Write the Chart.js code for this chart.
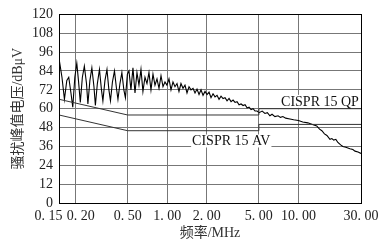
<!DOCTYPE html>
<html>
<head>
<meta charset="utf-8">
<script src="https://cdn.jsdelivr.net/npm/chart.js@4/dist/chart.umd.min.js"></script>
<style>
  html, body { margin: 0; padding: 0; background: #fff; }
</style>
</head>
<body>
<canvas id="emiChart" width="392" height="242"></canvas>
<script>
  const freqMHz = [
    0.150, 0.158, 0.165, 0.172, 0.178, 0.185, 0.191, 0.198, 0.205, 0.211,
    0.218, 0.226, 0.234, 0.243, 0.249, 0.258, 0.267, 0.277, 0.284, 0.294,
    0.305, 0.316, 0.324, 0.336, 0.348, 0.360, 0.370, 0.383, 0.397, 0.411,
    0.422, 0.437, 0.452, 0.468, 0.481, 0.498,
    0.512, 0.530, 0.549, 0.569, 0.589, 0.610, 0.632, 0.654, 0.678, 0.702,
    0.727, 0.753, 0.780, 0.808, 0.837, 0.867, 0.898, 0.930, 0.963, 0.997,
    1.033, 1.070, 1.108, 1.148, 1.189, 1.231, 1.275, 1.321, 1.368, 1.417,
    1.468, 1.520, 1.575, 1.631, 1.689, 1.750, 1.812, 1.877, 1.944, 2.014,
    2.086, 2.160, 2.237, 2.317, 2.400, 2.486, 2.575, 2.667, 2.762, 2.861,
    2.963, 3.069, 3.179, 3.292, 3.410, 3.532, 3.658, 3.789, 3.924, 4.064,
    4.210, 4.360, 4.516, 4.677, 4.844, 5.02,
    5.3, 5.56, 5.8, 6.07, 6.3, 6.63, 7.0, 7.3, 7.62, 8.0,
    8.62, 9.2, 10.0, 10.8, 11.8, 12.8, 13.8, 14.5, 15.1, 15.8,
    16.5, 17.4, 18.0, 18.6, 19.3, 20.0, 21.0, 21.8, 23.0, 24.7,
    26.0, 27.0, 28.5, 30.0
  ];
  const levelDbuV = [
    92, 80, 66, 78, 80, 70, 61, 80, 89, 78,
    64, 80, 87, 76, 63, 78, 86, 74, 62, 76,
    85, 72, 65, 78, 85, 72, 65, 77, 84, 73,
    66, 76, 83, 72, 67, 82,
    84, 72, 86, 70, 83, 75, 85, 71, 80, 76,
    83, 72, 82, 75, 79, 73, 81, 74, 77, 75,
    79, 72, 77, 74, 76, 71, 76, 73, 75, 70,
    74, 72, 73, 70, 72.5, 69, 72, 68.5, 71, 69,
    70.5, 67, 69.5, 67.5, 68.5, 66, 68, 66.5, 67, 65,
    66.5, 64.5, 65.5, 64, 64.5, 62.5, 63, 62, 62.5, 60.5,
    61, 59.5, 60, 58.5, 58.5, 57.5,
    58.5, 57, 57.5, 55.5, 56.5, 55, 55.5, 54.5, 55, 54,
    53.5, 53, 52.5, 51.5, 51, 50, 49, 47, 46, 44,
    43, 40.5, 41, 40, 40.5, 38.5, 37, 36, 35.5, 34.5,
    34, 33, 32.5, 31.5
  ];

  // CISPR 15 limit lines
  const qpFreq = [0.15, 0.5, 5, 5, 30];
  const qpLimit = [66, 56, 56, 60, 60];
  const avFreq = [0.15, 0.5, 5, 5, 30];
  const avLimit = [56, 46, 46, 50, 50];
  const limitNames = ['CISPR 15 QP', 'CISPR 15 AV'];

  const xTicks = [0.15, 0.2, 0.5, 1, 2, 5, 10, 30];
  const xTickLabels = ['0. 15      ', '   0. 20', '0. 50', '1. 00', '2. 00', '5. 00', '10. 00', '30. 00'];

  const serif = "'Liberation Serif', 'DejaVu Serif', serif";
  const cjk = "'Liberation Serif', 'Noto Sans CJK SC', serif";

  const toPoints = (xs, ys) => xs.map((x, i) => ({ x: x, y: ys[i] }));

  // black frame round the plot area
  const plotFrame = {
    id: 'plotFrame',
    afterDraw(chart) {
      const { ctx, chartArea: a } = chart;
      ctx.save();
      ctx.strokeStyle = '#000';
      ctx.lineWidth = 1;
      ctx.strokeRect(Math.round(a.left) + 0.5, Math.round(a.top) + 0.5,
        Math.round(a.right - a.left), Math.round(a.bottom - a.top));
      ctx.restore();
    }
  };

  // limit names written beside the lines
  const limitLabels = {
    id: 'limitLabels',
    afterDatasetsDraw(chart) {
      const { ctx, scales: { x, y } } = chart;
      ctx.save();
      ctx.font = '14px ' + serif;
      ctx.textBaseline = 'alphabetic';
      const put = (text, fx, vy, align) => {
        const px = x.getPixelForValue(fx), py = y.getPixelForValue(vy);
        const w = ctx.measureText(text).width;
        const left = align === 'right' ? px - w : px;
        ctx.fillStyle = '#fff';
        ctx.fillRect(left - 1, py - 11, w + 2, 13);
        ctx.fillStyle = '#111';
        ctx.textAlign = align;
        ctx.fillText(text, px, py);
      };
      put(limitNames[0], 28.9, 61.8, 'right');
      put(limitNames[1], 1.55, 36.6, 'left');
      ctx.restore();
    }
  };

  new Chart(document.getElementById('emiChart'), {
    type: 'line',
    data: {
      datasets: [
        {
          data: toPoints(qpFreq, qpLimit),
          borderColor: '#333',
          borderWidth: 1,
          pointRadius: 0,
          tension: 0
        },
        {
          data: toPoints(avFreq, avLimit),
          borderColor: '#333',
          borderWidth: 1,
          pointRadius: 0,
          tension: 0
        },
        {
          data: toPoints(freqMHz, levelDbuV),
          borderColor: '#000',
          borderWidth: 1.1,
          pointRadius: 0,
          tension: 0
        }
      ]
    },
    options: {
      responsive: false,
      animation: false,
      layout: { padding: { top: 13, right: 31, bottom: 0, left: 0 } },
      plugins: {
        legend: { display: false },
        tooltip: { enabled: false }
      },
      scales: {
        x: {
          type: 'logarithmic',
          min: 0.15,
          max: 30,
          afterBuildTicks: (scale) => { scale.ticks = xTicks.map(v => ({ value: v })); },
          afterFit: (scale) => { scale.height = 39; },
          grid: { color: '#777', lineWidth: 1, drawTicks: false },
          border: { display: true, color: '#000', width: 1 },
          ticks: {
            autoSkip: false,
            maxRotation: 0,
            padding: 5,
            color: '#222',
            font: { family: serif, size: 14 },
            callback: (value, index) => xTickLabels[index]
          },
          title: {
            display: true,
            text: '频率/MHz',
            color: '#333',
            font: { family: cjk, size: 14 },
            padding: { top: 0, bottom: 0.5 }
          }
        },
        y: {
          min: 0,
          max: 120,
          afterFit: (scale) => { scale.width = 59; },
          grid: { color: '#777', lineWidth: 1, drawTicks: false },
          border: { display: true, color: '#000', width: 1 },
          ticks: {
            stepSize: 12,
            autoSkip: false,
            padding: 6,
            color: '#222',
            font: { family: serif, size: 14 }
          },
          title: {
            display: true,
            text: '骚扰峰值电压/dBμV',
            color: '#333',
            font: { family: cjk, size: 14 },
            padding: { top: 10, bottom: 0 }
          }
        }
      }
    },
    plugins: [plotFrame, limitLabels]
  });
</script>
</body>
</html>
